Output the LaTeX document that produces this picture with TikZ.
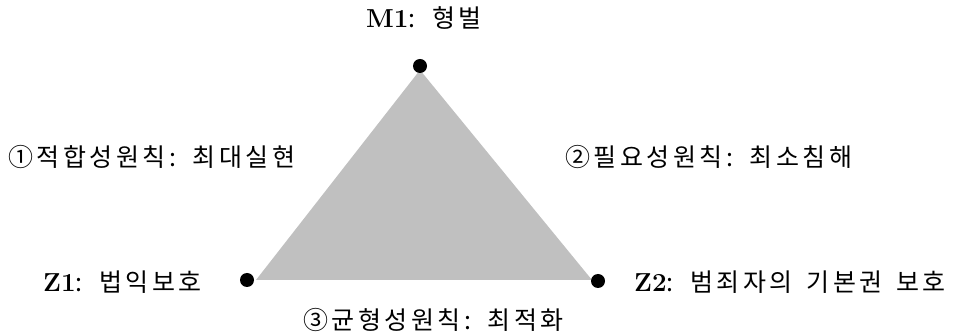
\documentclass[tikz,border=0pt]{standalone}
\usepackage{fontspec}
\newfontfamily\kr[LetterSpace=14,WordSpace=1.5]{Noto Sans CJK KR}
\tikzset{
  lbl/.style={inner sep=0pt, font=\fontsize{25}{28}\selectfont\kr},
  dot/.style={circle, fill=black, inner sep=0pt, minimum size=14pt},
}
\newcommand{\ltn}[1]{{\fontsize{26}{28}\selectfont\rmfamily\bfseries #1}}
\begin{document}
\begin{tikzpicture}[x=1pt,y=-1pt]
\useasboundingbox (0,0) rectangle (954,336);
\fill[fill={rgb,255:red,192;green,192;blue,192}] (420,70) -- (256,280) -- (592,280) -- cycle;
\node[dot] (m1) at (420,66) {};
\node[dot] (z1) at (247,280) {};
\node[dot] (z2) at (598,281) {};
\node[lbl] (tm) at (424,18) {\ltn{M1}: 형벌};
\node[lbl, anchor=west] (t1) at (8,157) {①적합성원칙: 최대실현};
\node[lbl, anchor=west] (t2) at (565,157) {②필요성원칙: 최소침해};
\node[lbl, anchor=west] (tz1) at (43,282) {\ltn{Z1}: 법익보호};
\node[lbl, anchor=west] (tz2) at (634,282) {\ltn{Z2}: 범죄자의 기본권 보호};
\node[lbl, anchor=west] (t3) at (303,320) {③균형성원칙: 최적화};
\end{tikzpicture}
\end{document}
